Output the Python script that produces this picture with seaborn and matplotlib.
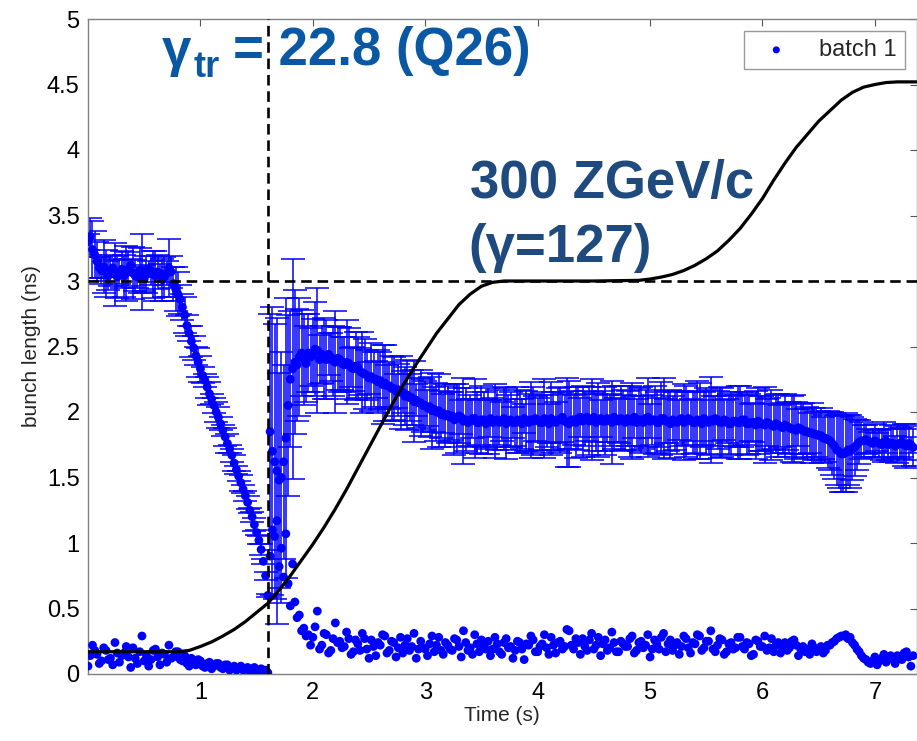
import matplotlib
matplotlib.use("Agg")
import matplotlib.pyplot as plt
import seaborn as sns
import pandas as pd

# ---------------- data ----------------
time_s = [
    0.00, 0.02, 0.04, 0.06, 0.08, 0.10, 0.12, 0.14, 0.16, 0.18,
    0.20, 0.22, 0.24, 0.26, 0.28, 0.30, 0.32, 0.34, 0.36, 0.38,
    0.40, 0.42, 0.44, 0.46, 0.48, 0.50, 0.52, 0.54, 0.56, 0.58,
    0.60, 0.62, 0.64, 0.66, 0.68, 0.70, 0.72, 0.74, 0.76, 0.78,
    0.80, 0.82, 0.84, 0.86, 0.88, 0.90, 0.92, 0.94, 0.96, 0.98,
    1.00, 1.02, 1.04, 1.06, 1.08, 1.10, 1.12, 1.14, 1.16, 1.18,
    1.20, 1.22, 1.24, 1.26, 1.28, 1.30, 1.32, 1.34, 1.36, 1.38,
    1.40, 1.42, 1.44, 1.46, 1.48, 1.50, 1.52, 1.54, 1.56, 1.58,
    1.60, 1.62, 1.64, 1.66, 1.68, 1.70, 1.72, 1.74, 1.76, 1.78,
    1.80, 1.82, 1.84, 1.86, 1.88, 1.90, 1.92, 1.94, 1.96, 1.98,
    2.00, 2.02, 2.04, 2.06, 2.08, 2.10, 2.12, 2.14, 2.16, 2.18,
    2.20, 2.22, 2.24, 2.26, 2.28, 2.30, 2.32, 2.34, 2.36, 2.38,
    2.40, 2.42, 2.44, 2.46, 2.48, 2.50, 2.52, 2.54, 2.56, 2.58,
    2.60, 2.62, 2.64, 2.66, 2.68, 2.70, 2.72, 2.74, 2.76, 2.78,
    2.80, 2.82, 2.84, 2.86, 2.88, 2.90, 2.92, 2.94, 2.96, 2.98,
    3.00, 3.02, 3.04, 3.06, 3.08, 3.10, 3.12, 3.14, 3.16, 3.18,
    3.20, 3.22, 3.24, 3.26, 3.28, 3.30, 3.32, 3.34, 3.36, 3.38,
    3.40, 3.42, 3.44, 3.46, 3.48, 3.50, 3.52, 3.54, 3.56, 3.58,
    3.60, 3.62, 3.64, 3.66, 3.68, 3.70, 3.72, 3.74, 3.76, 3.78,
    3.80, 3.82, 3.84, 3.86, 3.88, 3.90, 3.92, 3.94, 3.96, 3.98,
    4.00, 4.02, 4.04, 4.06, 4.08, 4.10, 4.12, 4.14, 4.16, 4.18,
    4.20, 4.22, 4.24, 4.26, 4.28, 4.30, 4.32, 4.34, 4.36, 4.38,
    4.40, 4.42, 4.44, 4.46, 4.48, 4.50, 4.52, 4.54, 4.56, 4.58,
    4.60, 4.62, 4.64, 4.66, 4.68, 4.70, 4.72, 4.74, 4.76, 4.78,
    4.80, 4.82, 4.84, 4.86, 4.88, 4.90, 4.92, 4.94, 4.96, 4.98,
    5.00, 5.02, 5.04, 5.06, 5.08, 5.10, 5.12, 5.14, 5.16, 5.18,
    5.20, 5.22, 5.24, 5.26, 5.28, 5.30, 5.32, 5.34, 5.36, 5.38,
    5.40, 5.42, 5.44, 5.46, 5.48, 5.50, 5.52, 5.54, 5.56, 5.58,
    5.60, 5.62, 5.64, 5.66, 5.68, 5.70, 5.72, 5.74, 5.76, 5.78,
    5.80, 5.82, 5.84, 5.86, 5.88, 5.90, 5.92, 5.94, 5.96, 5.98,
    6.00, 6.02, 6.04, 6.06, 6.08, 6.10, 6.12, 6.14, 6.16, 6.18,
    6.20, 6.22, 6.24, 6.26, 6.28, 6.30, 6.32, 6.34, 6.36, 6.38,
    6.40, 6.42, 6.44, 6.46, 6.48, 6.50, 6.52, 6.54, 6.56, 6.58,
    6.60, 6.62, 6.64, 6.66, 6.68, 6.70, 6.72, 6.74, 6.76, 6.78,
    6.80, 6.82, 6.84, 6.86, 6.88, 6.90, 6.92, 6.94, 6.96, 6.98,
    7.00, 7.02, 7.04, 7.06, 7.08, 7.10, 7.12, 7.14, 7.16, 7.18,
    7.20, 7.22, 7.24, 7.26, 7.28, 7.30, 7.32, 7.34,
]
bunch_length_ns = [
    3.30, 3.34, 3.24, 3.20, 3.15, 3.10, 3.08, 3.11, 3.06, 3.04,
    3.08, 3.10, 3.05, 3.03, 3.07, 3.09, 3.04, 3.06, 3.09, 3.12,
    3.06, 3.04, 3.03, 3.08, 3.07, 3.02, 3.05, 3.09, 3.08, 3.05,
    3.04, 3.07, 3.06, 3.01, 3.03, 3.06, 3.10, 3.07, 2.98, 2.94,
    2.90, 2.86, 2.80, 2.74, 2.66, 2.60, 2.54, 2.49, 2.43, 2.38,
    2.33, 2.28, 2.24, 2.19, 2.14, 2.10, 2.05, 2.00, 1.96, 1.91,
    1.86, 1.81, 1.76, 1.72, 1.67, 1.61, 1.56, 1.51, 1.46, 1.41,
    1.36, 1.31, 1.25, 1.20, 1.14, 1.08, 1.02, 0.95, 0.86, 0.75,
    0.60, 1.85, 1.70, 1.62, 1.55, 1.48, 1.50, 1.62, 1.80, 2.05,
    2.25, 2.33, 2.38, 2.36, 2.42, 2.45, 2.40, 2.37, 2.45, 2.42,
    2.43, 2.48, 2.47, 2.40, 2.44, 2.41, 2.40, 2.44, 2.42, 2.39,
    2.38, 2.41, 2.40, 2.37, 2.36, 2.38, 2.37, 2.34, 2.33, 2.35,
    2.34, 2.31, 2.30, 2.29, 2.28, 2.26, 2.27, 2.25, 2.25, 2.23,
    2.24, 2.21, 2.22, 2.20, 2.20, 2.18, 2.18, 2.16, 2.17, 2.15,
    2.15, 2.12, 2.13, 2.11, 2.11, 2.08, 2.09, 2.07, 2.07, 2.05,
    2.05, 2.03, 2.04, 2.01, 2.02, 2.00, 2.01, 1.98, 1.99, 1.97,
    1.98, 1.96, 1.97, 1.94, 1.95, 1.97, 1.96, 1.93, 1.94, 1.92,
    1.93, 1.95, 1.95, 1.92, 1.92, 1.94, 1.94, 1.91, 1.93, 1.95,
    1.92, 1.93, 1.94, 1.92, 1.93, 1.95, 1.91, 1.93, 1.94, 1.92,
    1.92, 1.94, 1.93, 1.91, 1.95, 1.93, 1.92, 1.94, 1.93, 1.95,
    1.94, 1.92, 1.92, 1.95, 1.93, 1.91, 1.95, 1.93, 1.92, 1.94,
    1.94, 1.96, 1.93, 1.92, 1.91, 1.94, 1.94, 1.92, 1.95, 1.96,
    1.93, 1.95, 1.96, 1.93, 1.94, 1.96, 1.92, 1.94, 1.95, 1.93,
    1.93, 1.95, 1.94, 1.92, 1.96, 1.94, 1.93, 1.95, 1.94, 1.92,
    1.95, 1.93, 1.93, 1.96, 1.92, 1.94, 1.94, 1.92, 1.95, 1.96,
    1.93, 1.94, 1.94, 1.92, 1.92, 1.95, 1.95, 1.93, 1.93, 1.91,
    1.94, 1.93, 1.92, 1.94, 1.95, 1.92, 1.93, 1.95, 1.94, 1.92,
    1.92, 1.94, 1.93, 1.91, 1.95, 1.93, 1.92, 1.94, 1.93, 1.95,
    1.94, 1.92, 1.92, 1.94, 1.93, 1.91, 1.91, 1.93, 1.93, 1.92,
    1.92, 1.94, 1.94, 1.91, 1.91, 1.92, 1.92, 1.90, 1.93, 1.91,
    1.91, 1.90, 1.92, 1.91, 1.90, 1.89, 1.91, 1.90, 1.89, 1.88,
    1.90, 1.89, 1.88, 1.87, 1.87, 1.86, 1.88, 1.87, 1.86, 1.85,
    1.85, 1.84, 1.84, 1.83, 1.83, 1.82, 1.82, 1.80, 1.80, 1.79,
    1.78, 1.76, 1.74, 1.71, 1.70, 1.68, 1.68, 1.69, 1.71, 1.70,
    1.72, 1.73, 1.75, 1.77, 1.78, 1.78, 1.79, 1.78, 1.77, 1.76,
    1.78, 1.77, 1.76, 1.75, 1.77, 1.78, 1.75, 1.76, 1.76, 1.74,
    1.75, 1.76, 1.77, 1.75, 1.74, 1.76, 1.75, 1.73,
]
bunch_spread_ns = [
    0.06, 0.14, 0.22, 0.18, 0.15, 0.08, 0.10, 0.20, 0.18, 0.11,
    0.12, 0.07, 0.24, 0.16, 0.09, 0.14, 0.16, 0.21, 0.13, 0.05,
    0.20, 0.12, 0.08, 0.17, 0.29, 0.10, 0.14, 0.06, 0.11, 0.18,
    0.19, 0.13, 0.07, 0.16, 0.15, 0.09, 0.22, 0.12, 0.13, 0.17,
    0.17, 0.11, 0.10, 0.14, 0.08, 0.06, 0.12, 0.09, 0.07, 0.11,
    0.10, 0.06, 0.05, 0.08, 0.09, 0.04, 0.06, 0.08, 0.08, 0.05,
    0.04, 0.07, 0.07, 0.03, 0.05, 0.06, 0.03, 0.04, 0.06, 0.03,
    0.04, 0.05, 0.02, 0.04, 0.05, 0.02, 0.03, 0.04, 0.02, 0.03,
    0.01, 0.90, 1.10, 1.05, 1.17, 0.82, 0.96, 0.74, 1.07, 0.69,
    0.52, 0.84, 0.55, 0.43, 0.45, 0.33, 0.35, 0.29, 0.30, 0.22,
    0.28, 0.36, 0.48, 0.19, 0.22, 0.31, 0.30, 0.16, 0.18, 0.27,
    0.39, 0.24, 0.25, 0.20, 0.21, 0.32, 0.27, 0.15, 0.17, 0.26,
    0.23, 0.18, 0.31, 0.27, 0.19, 0.12, 0.26, 0.21, 0.14, 0.24,
    0.22, 0.30, 0.29, 0.16, 0.18, 0.25, 0.24, 0.13, 0.20, 0.28,
    0.16, 0.22, 0.27, 0.18, 0.21, 0.31, 0.12, 0.19, 0.25, 0.20,
    0.19, 0.14, 0.23, 0.29, 0.17, 0.22, 0.28, 0.18, 0.15, 0.24,
    0.22, 0.19, 0.18, 0.27, 0.26, 0.21, 0.13, 0.33, 0.24, 0.18,
    0.20, 0.15, 0.30, 0.23, 0.17, 0.26, 0.21, 0.19, 0.25, 0.14,
    0.19, 0.28, 0.23, 0.17, 0.15, 0.24, 0.27, 0.20, 0.21, 0.12,
    0.18, 0.25, 0.24, 0.19, 0.11, 0.23, 0.22, 0.29, 0.26, 0.17,
    0.17, 0.21, 0.23, 0.30, 0.20, 0.15, 0.28, 0.22, 0.16, 0.24,
    0.25, 0.19, 0.21, 0.34, 0.33, 0.22, 0.19, 0.27, 0.24, 0.15,
    0.27, 0.21, 0.18, 0.26, 0.31, 0.19, 0.22, 0.28, 0.14, 0.23,
    0.26, 0.18, 0.20, 0.32, 0.24, 0.17, 0.17, 0.25, 0.23, 0.21,
    0.21, 0.27, 0.29, 0.16, 0.18, 0.24, 0.25, 0.20, 0.22, 0.30,
    0.13, 0.19, 0.26, 0.23, 0.19, 0.28, 0.31, 0.17, 0.23, 0.26,
    0.18, 0.22, 0.24, 0.15, 0.21, 0.29, 0.27, 0.20, 0.16, 0.24,
    0.23, 0.30, 0.29, 0.18, 0.20, 0.25, 0.25, 0.33, 0.19, 0.17,
    0.22, 0.27, 0.26, 0.15, 0.17, 0.23, 0.24, 0.19, 0.20, 0.28,
    0.28, 0.21, 0.19, 0.24, 0.23, 0.14, 0.15, 0.26, 0.25, 0.21,
    0.21, 0.29, 0.18, 0.20, 0.27, 0.17, 0.22, 0.24, 0.16, 0.19,
    0.24, 0.18, 0.20, 0.25, 0.26, 0.22, 0.14, 0.19, 0.21, 0.17,
    0.19, 0.15, 0.23, 0.20, 0.17, 0.19, 0.21, 0.16, 0.18, 0.22,
    0.22, 0.24, 0.25, 0.27, 0.28, 0.29, 0.29, 0.30, 0.27, 0.28,
    0.24, 0.22, 0.19, 0.17, 0.14, 0.12, 0.11, 0.09, 0.08, 0.10,
    0.13, 0.07, 0.10, 0.12, 0.15, 0.09, 0.12, 0.14, 0.11, 0.08,
    0.14, 0.12, 0.11, 0.16, 0.17, 0.13, 0.06, 0.14,
]
ramp_time_s = [0.0, 0.4, 0.8, 0.9, 1.0, 1.1, 1.2, 1.3, 1.4, 1.5, 1.6, 1.7,
               1.8, 1.9, 2.0, 2.1, 2.2, 2.3, 2.4, 2.5, 2.6, 2.7, 2.8, 2.9,
               3.0, 3.1, 3.2, 3.3, 3.4, 3.5, 3.6, 3.7, 4.0, 4.5, 4.9, 5.0,
               5.1, 5.2, 5.3, 5.4, 5.5, 5.6, 5.7, 5.8, 5.9, 6.0, 6.1, 6.2,
               6.3, 6.4, 6.5, 6.6, 6.7, 6.8, 6.9, 7.0, 7.1, 7.2, 7.37]
ramp_value = [0.17, 0.17, 0.17, 0.18, 0.21, 0.245, 0.29, 0.34, 0.40, 0.47,
              0.54, 0.64, 0.75, 0.87, 0.99, 1.12, 1.26, 1.41, 1.57, 1.73,
              1.89, 2.05, 2.20, 2.34, 2.47, 2.60, 2.71, 2.82, 2.90, 2.96,
              2.99, 3.00, 3.00, 3.00, 3.005, 3.015, 3.03, 3.05, 3.08, 3.12,
              3.17, 3.23, 3.31, 3.40, 3.51, 3.63, 3.77, 3.90, 4.02, 4.12,
              4.22, 4.30, 4.38, 4.44, 4.48, 4.50, 4.515, 4.52, 4.52]
transition_time_s = 1.6
flat_top_level = 3.0
x_ticks = [1, 2, 3, 4, 5, 6, 7]
y_ticks = [0, 0.5, 1, 1.5, 2, 2.5, 3, 3.5, 4, 4.5, 5]
y_tick_labels = ["0", "0.5", "1", "1.5", "2", "2.5", "3", "3.5", "4", "4.5", "5"]

df = pd.DataFrame({"t": time_s, "bl": bunch_length_ns, "sd": bunch_spread_ns})
ramp = pd.DataFrame({"t": ramp_time_s, "v": ramp_value})

# ---------------- style ----------------
sns.set_style("white")
plt.rcParams["font.family"] = ["Liberation Sans", "DejaVu Sans"]

W, H = 917, 741
fig = plt.figure(figsize=(W / 100, H / 100), dpi=100)
ax = fig.add_axes([88 / W, (H - 674) / H, (916.5 - 88) / W, (674 - 19) / H])

blue = "#0000ff"
ax.errorbar(df["t"], df["bl"], yerr=df["sd"], fmt="none", ecolor=blue,
            elinewidth=1.1, capsize=8.5, capthick=1.1, zorder=2)
sns.scatterplot(data=df, x="t", y="bl", color=blue, s=40, edgecolor="none",
                label="batch 1", ax=ax, zorder=3)
sns.scatterplot(data=df, x="t", y="sd", color=blue, s=40, edgecolor="none",
                legend=False, ax=ax, zorder=3)
sns.lineplot(data=ramp, x="t", y="v", color="black", lw=2.3, ax=ax, zorder=4,
             legend=False)

ax.axhline(flat_top_level, color="black", lw=1.9, ls=(0, (4, 2.2)), zorder=5)
ax.axvline(transition_time_s, color="black", lw=1.9, ls=(0, (4, 2.2)), zorder=5)

ax.set_xlim(0, 7.37)
ax.set_ylim(0, 5)
ax.set_xticks(x_ticks)
ax.set_xticklabels([str(v) for v in x_ticks])
ax.set_yticks(y_ticks)
ax.set_yticklabels(y_tick_labels)
ax.tick_params(direction="in", length=5, width=0.8, color="#555555",
               labelsize=17, top=True, right=True, pad=6, labelcolor="black")
for sp in ax.spines.values():
    sp.set_color("#808080")
    sp.set_linewidth(1.0)
ax.set_xlabel("Time (s)", fontsize=15, labelpad=1)
ax.set_ylabel("bunch length (ns)", fontsize=15, labelpad=4)

leg = ax.legend(loc="upper right", fontsize=17, frameon=True, fancybox=False,
                edgecolor="#808080", borderpad=0.35, handletextpad=0.8,
                markerscale=0.8, borderaxespad=0.5)
leg.get_frame().set_linewidth(1.0)

def px(x, y):
    return x / W, 1 - y / H

c1 = "#0a58a3"
c2 = "#1f4a7e"
fig.text(*px(162, 66), "γ", fontsize=38, fontweight="bold", color=c1, va="baseline")
fig.text(*px(193, 77), "tr", fontsize=26, fontweight="bold", color=c1, va="baseline")
fig.text(*px(233, 65), "= 22.8 (Q26)", fontsize=38, fontweight="bold", color=c1, va="baseline")
fig.text(*px(470, 198), "300 ZGeV/c", fontsize=38, fontweight="bold", color=c2, va="baseline")
fig.text(*px(468, 262), "(γ=127)", fontsize=38, fontweight="bold", color=c2, va="baseline")

fig.savefig("out.png", dpi=100)
